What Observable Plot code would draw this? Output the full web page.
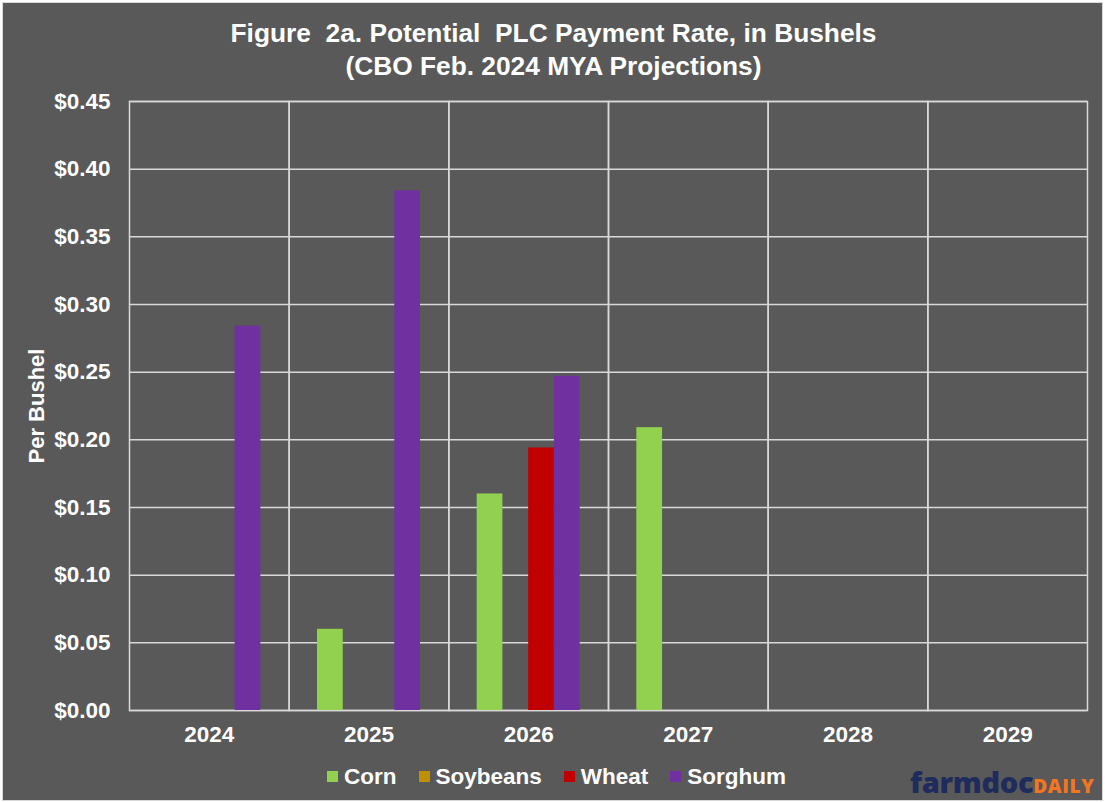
<!DOCTYPE html>
<html>
<head>
<meta charset="utf-8">
<script src="https://cdn.jsdelivr.net/npm/d3@7"></script>
<script src="https://cdn.jsdelivr.net/npm/@observablehq/plot@0.6"></script>
<style>
  html, body { margin: 0; padding: 0; background: #ffffff; }
  #wrap {
    position: absolute; left: 2px; top: 2px; width: 1099px; height: 797px;
    background: #595959; border: 1px solid #d9d9d9; overflow: hidden;
    font-family: "Liberation Sans", Arial, sans-serif; color: #ffffff;
  }
  .title {
    position: absolute; left: -2px; width: 1105px; text-align: center;
    font-weight: bold; font-size: 26.3px; line-height: 1; white-space: pre;
  }
  #chart { position: absolute; left: -3px; top: 82px; line-height: 0; }
  #chart svg { max-width: none !important; }
  #legend {
    position: absolute; left: 324px; top: 760px; display: flex; align-items: center;
    font-weight: bold; font-size: 22.5px; line-height: 1.2;
  }
  .item { display: flex; align-items: center; margin-right: 22px; }
  .sw { width: 11px; height: 11px; margin-right: 6px; }
  #logo {
    position: absolute; left: 907px; top: 764px; white-space: nowrap; line-height: 1;
    font-family: "Open Sans", sans-serif; font-weight: 800;
  }
  #logo .a { color: #1f2b5c; font-size: 29px; letter-spacing: -0.3px; }
  #logo .b { color: #f47521; font-size: 19px; letter-spacing: 0.6px; }
</style>
</head>
<body>
<div id="wrap">
  <div class="title" style="top:17px;">Figure  2a. Potential  PLC Payment Rate, in Bushels</div>
  <div class="title" style="top:50px;">(CBO Feb. 2024 MYA Projections)</div>
  <div id="chart"></div>
  <div id="legend"></div>
  <div id="logo"><span class="a">farmdoc</span><span class="b">DAILY</span></div>
</div>
<script>
const years = ["2024", "2025", "2026", "2027", "2028", "2029"];
const series = ["Corn", "Soybeans", "Wheat", "Sorghum"];
const colors = ["#92d050", "#bf9000", "#c00000", "#7030a0"];
const cornValues     = [0.000, 0.060, 0.160, 0.209, 0.000, 0.000];
const soybeanValues  = [0.000, 0.000, 0.000, 0.000, 0.000, 0.000];
const wheatValues    = [0.000, 0.000, 0.194, 0.000, 0.000, 0.000];
const sorghumValues  = [0.284, 0.384, 0.247, 0.000, 0.000, 0.000];
const yTicks = [0, 0.05, 0.10, 0.15, 0.20, 0.25, 0.30, 0.35, 0.40, 0.45];
const yLabel = "Per Bushel";

const valuesBySeries = [cornValues, soybeanValues, wheatValues, sorghumValues];
const data = [];
years.forEach((yr, i) => {
  series.forEach((s, j) => {
    data.push({year: yr, series: s, value: valuesBySeries[j][i]});
  });
});

const grid = "#d9d9d9";
const svgTop = 85; // page y of svg top; svg left is at page x 0

const chart = Plot.plot({
  width: 1100,
  height: 680,
  marginLeft: 129,
  marginRight: 13,
  marginTop: 101 - svgTop,
  marginBottom: 680 - (710 - svgTop),
  style: {background: "transparent", color: "#ffffff", maxWidth: "none", fontFamily: "'Liberation Sans', Arial, sans-serif"},
  fx: {domain: years, padding: 0, label: null, range: [129, 1087], round: false},
  x: {domain: series, paddingInner: 0, paddingOuter: 1.1, axis: null, round: false},
  y: {domain: [0, 0.45], label: null, range: [710 - svgTop, 101 - svgTop]},
  color: {domain: series, range: colors},
  marks: [
    Plot.gridY(yTicks, {stroke: grid, strokeOpacity: 1, strokeWidth: 1.5}),
    Plot.frame({stroke: grid, strokeWidth: 1.5}),
    Plot.barY(data, {fx: "year", x: "series", y: "value", fill: "series", inset: 0}),
    Plot.axisY(yTicks, {
      tickSize: 0, tickPadding: 19, fontSize: 22.5, fontWeight: "bold", fill: "#ffffff",
      tickFormat: d => "$" + d.toFixed(2),
      label: yLabel, labelAnchor: "center", labelArrow: "none", labelOffset: 101
    }),
    Plot.axisFx({anchor: "bottom", tickSize: 0, tickPadding: 16, fontSize: 22.5, fontWeight: "bold", fill: "#ffffff", label: null})
  ]
});
chart.style.maxWidth = "none";
document.getElementById("chart").appendChild(chart);

chart.querySelectorAll("g[aria-label='y-axis label'] text").forEach(t => {
  t.setAttribute("font-weight", "bold");
  t.setAttribute("font-size", "22");
});

const legend = document.getElementById("legend");
series.forEach((s, j) => {
  const it = document.createElement("div");
  it.className = "item";
  it.innerHTML = `<div class="sw" style="background:${colors[j]}"></div><span>${s}</span>`;
  legend.appendChild(it);
});
</script>
</body>
</html>
